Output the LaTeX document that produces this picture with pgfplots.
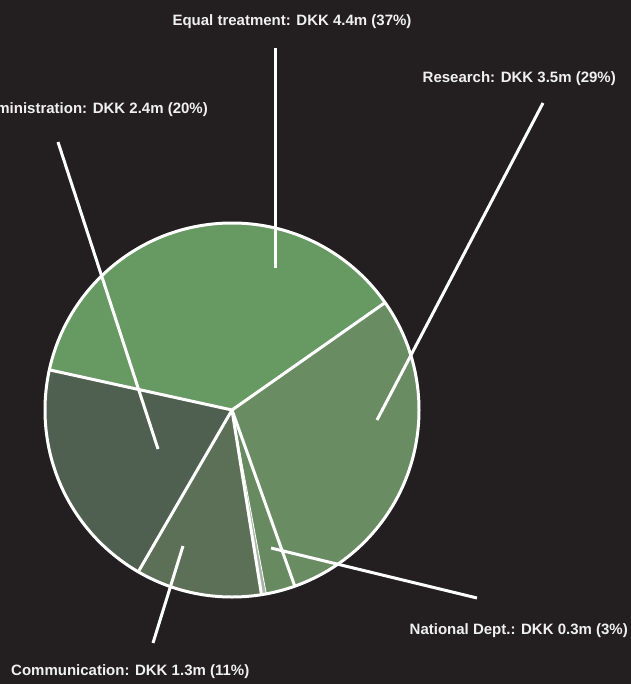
\documentclass[border=0pt]{standalone}
\usepackage{pgfplots}
\usepackage{pgfplotstable}
\pgfplotsset{compat=1.18}
\usepackage{fontspec}
\setmainfont{Liberation Sans}
\definecolor{bg}{HTML}{231F20}
\definecolor{slice0}{HTML}{679A62}
\definecolor{slice1}{HTML}{6A8C62}
\definecolor{slice2}{HTML}{678A60}
\definecolor{slice3}{HTML}{A9B3A8}
\definecolor{slice4}{HTML}{5C7058}
\definecolor{slice5}{HTML}{506050}
\pgfplotstableread[col sep=comma]{
name,value
Equal treatment,4.4
Research,3.5
National Dept.,0.3
Other,0.05
Communication,1.3
Administration,2.4
}\pietable
\begin{document}
\begin{tikzpicture}
\fill[bg] (0,0) rectangle (631bp,684bp);
\clip (0,0) rectangle (631bp,684bp);
\begin{axis}[
  at={(0,0)}, anchor=south west,
  width=631bp, height=684bp, scale only axis,
  xmin=0, xmax=631, ymin=0, ymax=684, y dir=reverse,
  hide axis, clip=false,
]
\def\cx{232}\def\cy{410}\def\rr{187bp}
\pgfmathsetmacro\total{11.95}
\def\startang{167.6}
\pgfplotsforeachungrouped \i in {0,...,5} {
  \pgfplotstablegetelem{\i}{value}\of\pietable
  \pgfmathsetmacro\spanang{\pgfplotsretval/\total*360}
  \pgfmathsetmacro\endang{\startang-\spanang}
  \edef\temp{\noexpand\fill[slice\i] (axis cs:\cx,\cy) -- ++(\startang:\rr) arc[start angle=\startang, end angle=\endang, radius=\rr] -- cycle;}
  \temp
  \global\let\startang\endang
}
\def\startang{167.6}
\pgfplotsforeachungrouped \i in {0,...,5} {
  \pgfplotstablegetelem{\i}{value}\of\pietable
  \pgfmathsetmacro\spanang{\pgfplotsretval/\total*360}
  \pgfmathsetmacro\endang{\startang-\spanang}
  \ifnum\i=3\relax
  \edef\temp{\noexpand\draw[white, line width=0.8bp] (axis cs:\cx,\cy) -- ++(\startang:\rr);}
  \else
  \edef\temp{\noexpand\draw[white, line width=3bp, line join=round] (axis cs:\cx,\cy) -- ++(\startang:\rr);}
  \fi
  \temp
  \global\let\startang\endang
}
\draw[white, line width=3bp] (axis cs:\cx,\cy) circle[radius=\rr];
% leader lines
\addplot[white, line width=3bp, forget plot] coordinates {(275,268) (275,48)};
\addplot[white, line width=3bp, forget plot] coordinates {(377,420) (543,103)};
\addplot[white, line width=3bp, forget plot] coordinates {(158,449) (58,142)};
\addplot[white, line width=3bp, forget plot] coordinates {(271,548) (477,598)};
\addplot[white, line width=3bp, forget plot] coordinates {(183,546) (153,643)};
% labels
\begin{scope}[every node/.style={text=white!94!black, font=\bfseries\fontsize{15bp}{17bp}\selectfont, inner sep=0pt}]
\node at (axis cs:292,22) {Equal treatment: DKK 4.4m (37\%)};
\node[anchor=east] at (axis cs:616,79) {Research: DKK 3.5m (29\%)};
\node[anchor=east] at (axis cs:208,110) {Administration: DKK 2.4m (20\%)};
\node[anchor=east] at (axis cs:628,631) {National Dept.: DKK 0.3m (3\%)};
\node[anchor=west] at (axis cs:11,672) {Communication: DKK 1.3m (11\%)};
\end{scope}
\end{axis}
\end{tikzpicture}
\end{document}
